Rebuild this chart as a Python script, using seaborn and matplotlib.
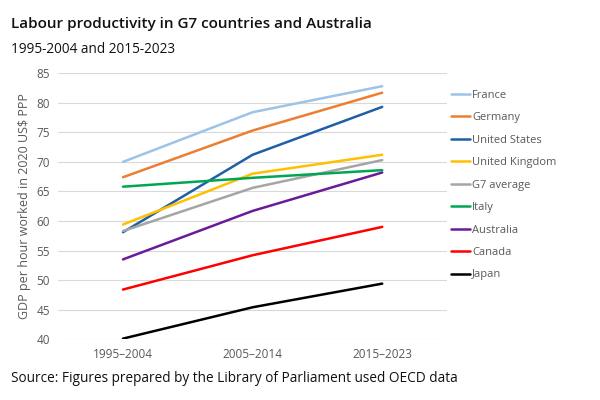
import pandas as pd
import matplotlib.pyplot as plt
import seaborn as sns

# data
periods = ['1995–2004', '2005–2014', '2015–2023']
countries = ['France', 'Germany', 'United States', 'United Kingdom', 'G7 average',
             'Italy', 'Australia', 'Canada', 'Japan']
france = [70.0, 78.4, 82.8]
germany = [67.4, 75.3, 81.7]
us = [58.1, 71.2, 79.3]
uk = [59.4, 68.0, 71.2]
g7 = [58.3, 65.6, 70.3]
italy = [65.8, 67.3, 68.6]
australia = [53.5, 61.7, 68.2]
canada = [48.4, 54.2, 59.0]
japan = [40.1, 45.4, 49.4]
colours = ['#9DC3E6', '#ED7D31', '#1F5FA6', '#FFC000', '#A5A5A5',
           '#00A651', '#6A1B9A', '#FF0000', '#000000']

series = [france, germany, us, uk, g7, italy, australia, canada, japan]
rows = []
for name, vals in zip(countries, series):
    for i, v in enumerate(vals):
        rows.append({'period': i, 'country': name, 'value': v})
df = pd.DataFrame(rows)

sns.set_style('white')
plt.rcParams['font.family'] = ['Open Sans', 'DejaVu Sans']

fig = plt.figure(figsize=(6, 4), dpi=100)
ax = fig.add_axes([0.097, 0.152, 0.648, 0.665])

sns.lineplot(data=df, x='period', y='value', hue='country', hue_order=countries,
             palette=colours, linewidth=1.8, ax=ax, legend=False)

ax.set_xlim(-0.5, 2.5)
ax.set_ylim(40, 85)
ax.set_xticks(range(3))
ax.set_xticklabels(periods)
ax.set_yticks(range(40, 86, 5))
ax.yaxis.grid(True, color='#D9D9D9', linewidth=0.8)
ax.set_axisbelow(True)
for s in ax.spines.values():
    s.set_visible(False)
ax.tick_params(axis='both', colors='#595959', labelsize=8.5, length=0, pad=6)
ax.set_xlabel('')
ax.set_ylabel('GDP per hour worked in 2020 US$ PPP', color='#595959', fontsize=9)

handles = [plt.Line2D([], [], color=c, lw=1.8) for c in colours]
leg = ax.legend(handles, countries, loc='upper left', bbox_to_anchor=(0.985, 0.975),
                frameon=False, fontsize=8, handlelength=1.7, handletextpad=0.2,
                labelspacing=1.03, labelcolor='#595959')

fig.text(0.018, 0.93, 'Labour productivity in G7 countries and Australia',
         fontsize=11, fontweight='semibold', color='#111111')
fig.text(0.018, 0.868, '1995-2004 and 2015-2023', fontsize=9.8, color='#111111')
fig.text(0.018, 0.045, 'Source: Figures prepared by the Library of Parliament used OECD data',
         fontsize=9.8, color='#111111')

fig.savefig('out.png', dpi=100, facecolor='white')
